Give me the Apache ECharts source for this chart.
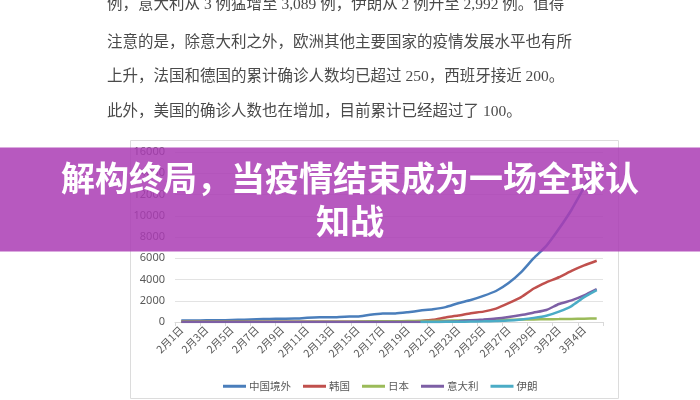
<!DOCTYPE html>
<html>
<head>
<meta charset="utf-8">
<script src="https://cdn.jsdelivr.net/npm/echarts@6/dist/echarts.min.js"></script>
<style>
  html, body { margin: 0; padding: 0; background: #fff; }
  #main { width: 700px; height: 400px; }
</style>
</head>
<body>
<div id="main"></div>
<script>
// 日期：2月1日 ~ 3月5日
const dates = [
  "2月1日","2月2日","2月3日","2月4日","2月5日","2月6日","2月7日","2月8日","2月9日","2月10日",
  "2月11日","2月12日","2月13日","2月14日","2月15日","2月16日","2月17日","2月18日","2月19日","2月20日",
  "2月21日","2月22日","2月23日","2月24日","2月25日","2月26日","2月27日","2月28日","2月29日",
  "3月1日","3月2日","3月3日","3月4日","3月5日"
];
const yTicks = [0, 2000, 4000, 6000, 8000, 10000, 12000, 14000, 16000];

// 累计确诊人数
const outsideChina = [132,146,153,159,191,216,270,288,307,319,395,441,447,505,526,683,794,804,924,1073,
  1200,1402,1769,2069,2459,2918,3664,4691,6009,7169,8774,10566,12668,14768];
const korea = [12,15,15,16,19,23,24,24,25,27,28,28,28,28,28,29,30,31,51,104,
  204,433,602,833,977,1261,1766,2337,3150,3736,4212,4812,5328,5766];
const japan = [20,20,20,20,22,25,25,25,26,26,26,28,28,29,43,59,66,74,84,94,
  105,122,147,159,170,189,214,228,241,256,274,293,317,331];
const italy = [2,2,2,2,2,2,3,3,3,3,3,3,3,3,3,3,3,3,3,3,
  3,20,79,157,229,323,470,655,888,1128,1694,2036,2502,3089];
const iran = [null,null,null,null,null,null,null,null,null,null,null,null,null,null,null,null,null,null,null,2,
  5,18,28,43,61,95,139,245,388,593,978,1501,2336,2992];

const seriesNames = ["中国境外", "韩国", "日本", "意大利", "伊朗"];
const seriesData = [outsideChina, korea, japan, italy, iran];
const colors = ["#4a7ebb", "#c0504d", "#9bbb59", "#7d5fa5", "#4bacc6"];

// 正文段落（截图上方的文字）
const paragraph = [
  "例，意大利从 3 例猛增至 3,089 例，伊朗从 2 例升至 2,992 例。值得",
  "注意的是，除意大利之外，欧洲其他主要国家的疫情发展水平也有所",
  "上升，法国和德国的累计确诊人数均已超过 250，西班牙接近 200。",
  "此外，美国的确诊人数也在增加，目前累计已经超过了 100。"
];
const paragraphY = [6, 44, 78, 113];
const bannerTitle = "解构终局，当疫情结束成为一场全球认\n知战";

const chart = echarts.init(document.getElementById("main"));

const textGraphics = paragraph.map((t, i) => ({
  type: "text",
  left: 107,
  top: paragraphY[i] - 9,
  z: 1,
  style: {
    text: t,
    fill: "#4a4a4a",
    font: '15.5px "Liberation Serif", "Noto Sans CJK SC", serif'
  }
}));

const option = {
  animation: false,
  color: colors,
  grid: { left: 175, right: 97, top: 152, bottom: 78 },
  legend: {
    data: seriesNames,
    top: 376,
    left: 218,
    icon: "rect",
    itemWidth: 23,
    itemHeight: 3,
    itemGap: 12,
    textStyle: { color: "#595959", fontSize: 10.5, padding: [0, 0, 0, -2], fontFamily: "Noto Sans CJK SC" }
  },
  xAxis: {
    type: "category",
    data: dates,
    boundaryGap: true,
    axisLine: { lineStyle: { color: "#d9d9d9" } },
    axisTick: { show: true, length: 4, lineStyle: { color: "#d9d9d9" } },
    axisLabel: {
      interval: 1,
      rotate: 45,
      color: "#595959",
      fontSize: 10.5,
      margin: 6,
      fontFamily: "Noto Sans CJK SC"
    }
  },
  yAxis: {
    type: "value",
    min: yTicks[0],
    max: yTicks[yTicks.length - 1],
    interval: 2000,
    axisLine: { show: false },
    axisTick: { show: false },
    axisLabel: {
      color: "#595959",
      fontSize: 11,
      margin: 10,
      fontFamily: "Noto Sans",
      formatter: (v) => String(v)
    },
    splitLine: { lineStyle: { color: "#e3e3e3" } }
  },
  series: seriesNames.map((name, i) => ({
    name: name,
    type: "line",
    data: seriesData[i],
    symbol: "none",
    smooth: 0.2,
    lineStyle: { width: 2.5, color: colors[i] },
    z: 2 + i
  })),
  graphic: [
    ...textGraphics,
    // 图表外框
    {
      type: "rect",
      z: 0,
      shape: { x: 130.5, y: 140.5, width: 488, height: 258 },
      style: { fill: "none", stroke: "#dcdcdc", lineWidth: 1 }
    },
    // 紫色半透明横幅
    {
      type: "rect",
      z: 100,
      shape: { x: 0, y: 147.5, width: 700, height: 104 },
      style: { fill: "rgba(170,60,180,0.85)" }
    },
    {
      type: "text",
      z: 101,
      x: 350,
      y: 200,
      style: {
        text: bannerTitle,
        fill: "#fff",
        align: "center",
        verticalAlign: "middle",
        lineHeight: 43,
        font: 'bold 34px "Noto Sans CJK SC", sans-serif'
      }
    }
  ]
};

chart.setOption(option);
window.addEventListener("resize", () => chart.resize());
</script>
</body>
</html>
